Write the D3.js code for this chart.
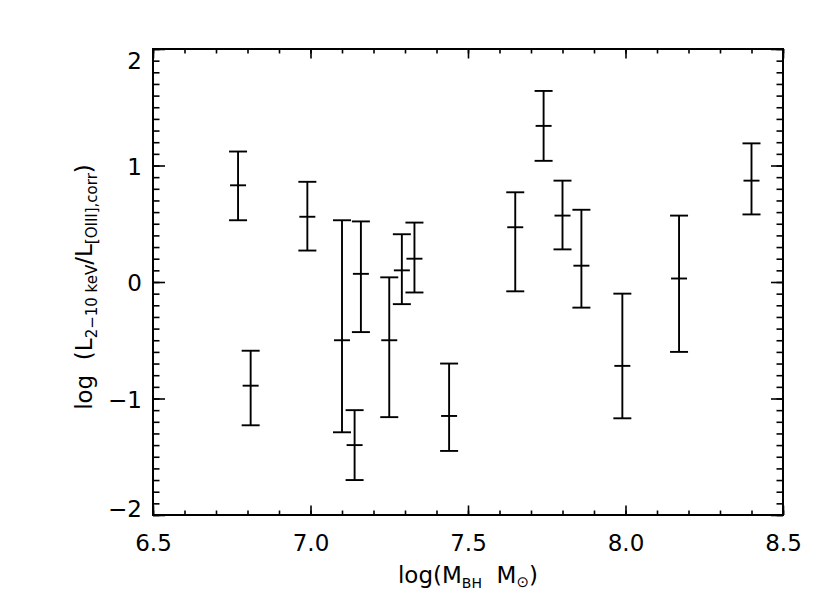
<!DOCTYPE html>
<html>
<head>
<meta charset="utf-8">
<script src="https://cdn.jsdelivr.net/npm/d3@7"></script>
<style>
  body { margin: 0; background: #fff; }
  svg text { font-family: "DejaVu Sans", sans-serif; fill: #000; }
</style>
</head>
<body>
<svg width="830" height="612"></svg>
<script>
var marge = { top: 49, bottom: 97, left: 153, right: 47 }

// black hole mass vs hard X / [OIII] ratio, with error bars
var mbh   = [6.77, 6.81, 6.99, 7.10, 7.14, 7.16, 7.25, 7.29, 7.33, 7.44, 7.65, 7.74, 7.80, 7.86, 7.99, 8.17, 8.40];
var ratio = [0.83, -0.89, 0.56, -0.50, -1.40, 0.07, -0.50, 0.10, 0.20, -1.15, 0.47, 1.34, 0.57, 0.14, -0.72, 0.03, 0.87];
var upper = [1.12, -0.59, 0.86, 0.53, -1.10, 0.52, 0.04, 0.41, 0.51, -0.70, 0.77, 1.64, 0.87, 0.62, -0.10, 0.57, 1.19];
var lower = [0.53, -1.23, 0.27, -1.29, -1.70, -0.43, -1.16, -0.19, -0.09, -1.45, -0.08, 1.04, 0.28, -0.22, -1.17, -0.60, 0.58];

var xTicks = [6.5, 7.0, 7.5, 8.0, 8.5];
var yTicks = [-2, -1, 0, 1, 2];

var svg = d3.select("svg");
var W = 830 - marge.left - marge.right;
var H = 612 - marge.top - marge.bottom;
var g = svg.append("g").attr("transform", "translate(" + marge.left + "," + marge.top + ")");

var x = d3.scaleLinear().domain([6.5, 8.5]).range([0, W]);
var y = d3.scaleLinear().domain([-2, 2]).range([H, 0]);

function fmtY(d) { return d < 0 ? "\u2212" + Math.abs(d) : "" + d; }

function style(sel) {
  sel.select(".domain").remove();
  sel.selectAll("line").attr("stroke", "#000").attr("stroke-width", 1.6);
  sel.selectAll("text").attr("font-size", 23).attr("fill", "#000");
}

// bottom axis
g.append("g").attr("transform", "translate(0," + H + ")")
  .call(d3.axisBottom(x).tickValues(xTicks).tickFormat(d3.format(".1f")).tickSizeInner(-9.5).tickSizeOuter(0).tickPadding(20))
  .call(style);
g.append("g").attr("transform", "translate(0," + H + ")")
  .call(d3.axisBottom(x).tickValues(x.ticks(20)).tickFormat("").tickSizeInner(-4.5).tickSizeOuter(0))
  .call(style);
// top axis
g.append("g")
  .call(d3.axisTop(x).tickValues(xTicks).tickFormat("").tickSizeInner(-9.5).tickSizeOuter(0))
  .call(style);
g.append("g")
  .call(d3.axisTop(x).tickValues(x.ticks(20)).tickFormat("").tickSizeInner(-4.5).tickSizeOuter(0))
  .call(style);
// left axis
var yl = g.append("g")
  .call(d3.axisLeft(y).tickValues(yTicks).tickFormat(fmtY).tickSizeInner(-12).tickSizeOuter(0).tickPadding(11))
  .call(style);
yl.selectAll("text").attr("dy", function(d) {
  if (d === 2) return "0.85em";
  if (d === -2) return "0.05em";
  return "0.38em";
});
g.append("g")
  .call(d3.axisLeft(y).tickValues(y.ticks(40)).tickFormat("").tickSizeInner(-6.5).tickSizeOuter(0))
  .call(style);
// right axis
g.append("g").attr("transform", "translate(" + W + ",0)")
  .call(d3.axisRight(y).tickValues(yTicks).tickFormat("").tickSizeInner(-12).tickSizeOuter(0))
  .call(style);
g.append("g").attr("transform", "translate(" + W + ",0)")
  .call(d3.axisRight(y).tickValues(y.ticks(40)).tickFormat("").tickSizeInner(-6.5).tickSizeOuter(0))
  .call(style);

// frame
g.append("rect").attr("width", W).attr("height", H)
  .attr("fill", "none").attr("stroke", "#000").attr("stroke-width", 2);

// error bars
var capW = 9, midW = 8;
var bars = g.selectAll(".bar")
  .data(mbh)
  .enter()
  .append("g")
  .attr("class", "bar")
  .attr("stroke", "#000")
  .attr("stroke-width", 1.9);
bars.append("line")
  .attr("x1", function(d) { return x(d); }).attr("x2", function(d) { return x(d); })
  .attr("y1", function(d, i) { return y(upper[i]); })
  .attr("y2", function(d, i) { return y(lower[i]); });
bars.append("line")
  .attr("x1", function(d) { return x(d) - capW; }).attr("x2", function(d) { return x(d) + capW; })
  .attr("y1", function(d, i) { return y(upper[i]); })
  .attr("y2", function(d, i) { return y(upper[i]); });
bars.append("line")
  .attr("x1", function(d) { return x(d) - capW; }).attr("x2", function(d) { return x(d) + capW; })
  .attr("y1", function(d, i) { return y(lower[i]); })
  .attr("y2", function(d, i) { return y(lower[i]); });
bars.append("line")
  .attr("x1", function(d) { return x(d) - midW; }).attr("x2", function(d) { return x(d) + midW; })
  .attr("y1", function(d, i) { return y(ratio[i]); })
  .attr("y2", function(d, i) { return y(ratio[i]); });

// axis titles
var xt = svg.append("text")
  .attr("x", marge.left + W / 2)
  .attr("y", 583)
  .attr("text-anchor", "middle")
  .attr("font-size", 23)
  .attr("xml:space", "preserve");
xt.append("tspan").text("log(M");
xt.append("tspan").attr("font-size", 14).attr("dy", 5).text("BH");
xt.append("tspan").attr("dy", -5).text("  M");
xt.append("tspan").attr("font-size", 15).attr("dy", 4).text("\u2299");
xt.append("tspan").attr("dy", -4).text(")");

var yt = svg.append("text")
  .attr("transform", "translate(92," + (marge.top + H / 2 + 5) + ") rotate(-90)")
  .attr("text-anchor", "middle")
  .attr("font-size", 23)
  .attr("xml:space", "preserve");
yt.append("tspan").text("log  (L");
yt.append("tspan").attr("font-size", 15).attr("dy", 5).text("2\u221210 keV");
yt.append("tspan").attr("dy", -5).text("/L");
yt.append("tspan").attr("font-size", 15).attr("dy", 5).text("[OIII],corr");
yt.append("tspan").attr("dy", -5).text(")");
</script>
</body>
</html>
